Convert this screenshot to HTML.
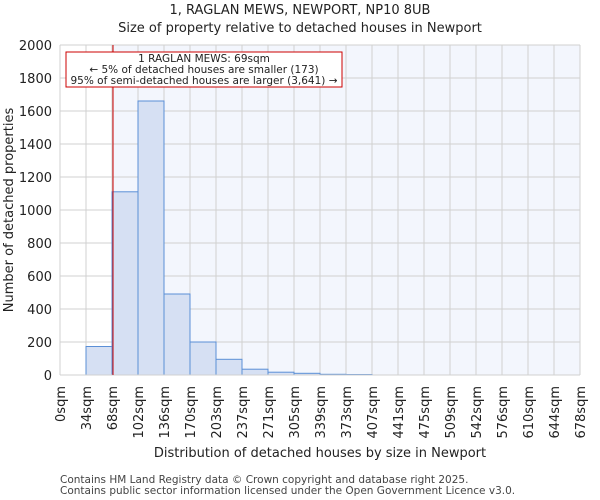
<!DOCTYPE html>
<html><head><style>body{margin:0;background:#fff}svg{display:block;font-family:"DejaVu Sans","Liberation Sans",sans-serif}</style></head><body>
<svg width="600" height="500" viewBox="0 0 600 500">
<rect x="113" y="45" width="467" height="330" fill="#f3f6fd"/>
<g stroke="#d0d0d0" stroke-width="1">
<line x1="60" y1="45" x2="580" y2="45"/><line x1="60" y1="78" x2="580" y2="78"/><line x1="60" y1="111" x2="580" y2="111"/><line x1="60" y1="144" x2="580" y2="144"/><line x1="60" y1="177" x2="580" y2="177"/><line x1="60" y1="210" x2="580" y2="210"/><line x1="60" y1="243" x2="580" y2="243"/><line x1="60" y1="276" x2="580" y2="276"/><line x1="60" y1="309" x2="580" y2="309"/><line x1="60" y1="342" x2="580" y2="342"/>
<line x1="60" y1="45" x2="60" y2="375"/><line x1="86" y1="45" x2="86" y2="375"/><line x1="112" y1="45" x2="112" y2="375"/><line x1="138" y1="45" x2="138" y2="375"/><line x1="164" y1="45" x2="164" y2="375"/><line x1="190" y1="45" x2="190" y2="375"/><line x1="216" y1="45" x2="216" y2="375"/><line x1="242" y1="45" x2="242" y2="375"/><line x1="268" y1="45" x2="268" y2="375"/><line x1="294" y1="45" x2="294" y2="375"/><line x1="320" y1="45" x2="320" y2="375"/><line x1="346" y1="45" x2="346" y2="375"/><line x1="372" y1="45" x2="372" y2="375"/><line x1="398" y1="45" x2="398" y2="375"/><line x1="424" y1="45" x2="424" y2="375"/><line x1="450" y1="45" x2="450" y2="375"/><line x1="476" y1="45" x2="476" y2="375"/><line x1="502" y1="45" x2="502" y2="375"/><line x1="528" y1="45" x2="528" y2="375"/><line x1="554" y1="45" x2="554" y2="375"/><line x1="580" y1="45" x2="580" y2="375"/>
</g>
<g fill="#d6e0f3" stroke="#5b8fd6" stroke-width="1">
<rect x="86" y="346.5" width="26" height="28.5"/>
<rect x="112" y="191.8" width="26" height="183.2"/>
<rect x="138" y="101" width="26" height="274"/>
<rect x="164" y="294" width="26" height="81"/>
<rect x="190" y="342" width="26" height="33"/>
<rect x="216" y="359.3" width="26" height="15.7"/>
<rect x="242" y="369.2" width="26" height="5.8"/>
<rect x="268" y="372.2" width="26" height="2.8"/>
<rect x="294" y="373.3" width="26" height="1.7"/>
<rect x="320" y="374.3" width="26" height="0.7"/>
<rect x="346" y="374.5" width="26" height="0.5"/>
</g>
<line x1="60" y1="375" x2="580" y2="375" stroke="#d0d0d0"/>
<line x1="113" y1="45" x2="113" y2="375" stroke="#cc0000" stroke-width="1"/>
<rect x="66" y="52" width="276" height="35" fill="#fff" stroke="#cc0000" stroke-width="1"/>
<g font-size="10.5" text-anchor="middle" fill="#222">
<text x="204" y="62">1 RAGLAN MEWS: 69sqm</text>
<text x="204" y="73">← 5% of detached houses are smaller (173)</text>
<text x="204" y="84">95% of semi-detached houses are larger (3,641) →</text>
</g>
<g font-size="13" text-anchor="end" fill="#222">
<text x="52" y="50">2000</text><text x="52" y="83">1800</text><text x="52" y="116">1600</text><text x="52" y="149">1400</text><text x="52" y="182">1200</text><text x="52" y="215">1000</text><text x="52" y="248">800</text><text x="52" y="281">600</text><text x="52" y="314">400</text><text x="52" y="347">200</text><text x="52" y="380">0</text>
</g>
<g font-size="13" text-anchor="end" fill="#222">
<text transform="translate(65,386) rotate(-90)">0sqm</text>
<text transform="translate(91,386) rotate(-90)">34sqm</text>
<text transform="translate(117,386) rotate(-90)">68sqm</text>
<text transform="translate(143,386) rotate(-90)">102sqm</text>
<text transform="translate(169,386) rotate(-90)">136sqm</text>
<text transform="translate(195,386) rotate(-90)">170sqm</text>
<text transform="translate(221,386) rotate(-90)">203sqm</text>
<text transform="translate(247,386) rotate(-90)">237sqm</text>
<text transform="translate(273,386) rotate(-90)">271sqm</text>
<text transform="translate(299,386) rotate(-90)">305sqm</text>
<text transform="translate(325,386) rotate(-90)">339sqm</text>
<text transform="translate(351,386) rotate(-90)">373sqm</text>
<text transform="translate(377,386) rotate(-90)">407sqm</text>
<text transform="translate(403,386) rotate(-90)">441sqm</text>
<text transform="translate(429,386) rotate(-90)">475sqm</text>
<text transform="translate(455,386) rotate(-90)">509sqm</text>
<text transform="translate(481,386) rotate(-90)">542sqm</text>
<text transform="translate(507,386) rotate(-90)">576sqm</text>
<text transform="translate(533,386) rotate(-90)">610sqm</text>
<text transform="translate(559,386) rotate(-90)">644sqm</text>
<text transform="translate(585,386) rotate(-90)">678sqm</text>
</g>
<text x="320" y="457" font-size="13" text-anchor="middle" fill="#222">Distribution of detached houses by size in Newport</text>
<text transform="translate(13,210) rotate(-90)" font-size="13" text-anchor="middle" fill="#222">Number of detached properties</text>
<g font-size="13" text-anchor="middle" fill="#222">
<text x="300" y="14">1, RAGLAN MEWS, NEWPORT, NP10 8UB</text>
<text x="300" y="32">Size of property relative to detached houses in Newport</text>
</g>
<g font-size="10.5" fill="#444">
<text x="60" y="483">Contains HM Land Registry data © Crown copyright and database right 2025.</text>
<text x="60" y="494">Contains public sector information licensed under the Open Government Licence v3.0.</text>
</g>
</svg>
</body></html>
